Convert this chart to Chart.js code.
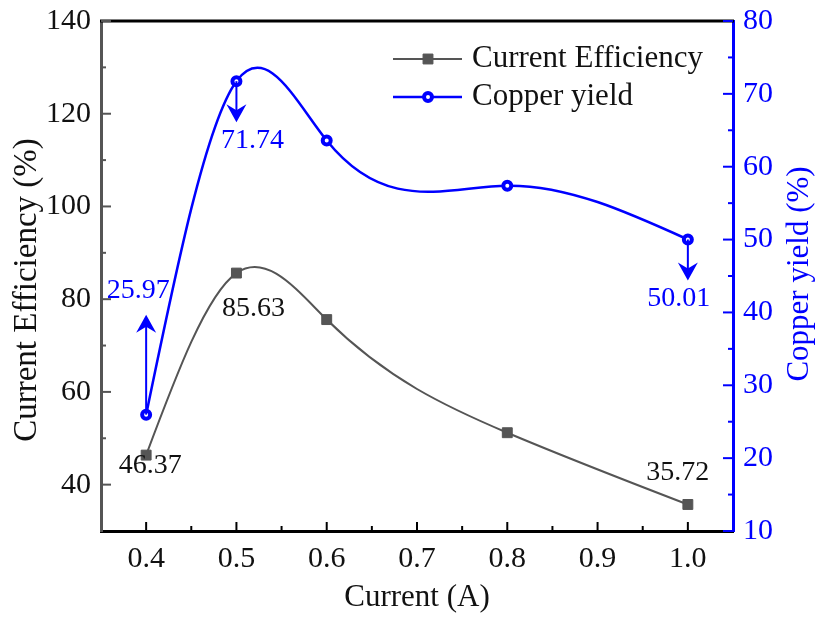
<!DOCTYPE html>
<html>
<head>
<meta charset="utf-8">
<script src="https://cdn.jsdelivr.net/npm/chart.js@4.4.1/dist/chart.umd.min.js"></script>
<style>
  html, body { margin: 0; padding: 0; background: #fff; }
</style>
</head>
<body>
<canvas id="myChart" width="819" height="621"></canvas>
<script>
// data
const currents = [0.4, 0.5, 0.6, 0.8, 1.0];
const efficiency = [46.37, 85.63, 75.6, 51.2, 35.72];
const copperYield = [25.97, 71.74, 63.6, 57.4, 50.01];

const xTicks = [0.4, 0.5, 0.6, 0.7, 0.8, 0.9, 1.0];
const effTicks = [40, 60, 80, 100, 120, 140];
const yieldTicks = [10, 20, 30, 40, 50, 60, 70, 80];

// which points carry a value label
const effLabelled = [0, 1, 4];
const yieldLabelled = [0, 1, 4];

const serif = "'Liberation Serif', 'Times New Roman', serif";
const grey = '#555555';
const blue = '#0000ff';

const effPoints = currents.map((c, i) => ({ x: c, y: efficiency[i] }));
const yieldPoints = currents.map((c, i) => ({ x: c, y: copperYield[i] }));

function midpoints(arr) {
    let out = [];
    for (let i = 0; i < arr.length - 1; i++) out.push((arr[i] + arr[i + 1]) / 2);
    return out;
}

// natural cubic spline through the drawn points -> bezier control points
// (like the smoothed line of the original plot)
function splineControls(pts) {
    const n = pts.length - 1;
    let h = [], d = [];
    for (let i = 0; i < n; i++) {
        h[i] = pts[i + 1].x - pts[i].x;
        d[i] = (pts[i + 1].y - pts[i].y) / h[i];
    }
    let M = new Array(n + 1).fill(0);
    let b = [], c = [], r = [];
    for (let i = 1; i < n; i++) {
        b[i] = 2 * (h[i - 1] + h[i]);
        c[i] = h[i];
        r[i] = 6 * (d[i] - d[i - 1]);
    }
    for (let i = 2; i < n; i++) {
        let w = h[i - 1] / b[i - 1];
        b[i] -= w * c[i - 1];
        r[i] -= w * r[i - 1];
    }
    for (let i = n - 1; i >= 1; i--) {
        M[i] = (r[i] - (i < n - 1 ? c[i] * M[i + 1] : 0)) / b[i];
    }
    let m = [];
    for (let i = 0; i < n; i++) m[i] = d[i] - h[i] * (2 * M[i] + M[i + 1]) / 6;
    m[n] = d[n - 1] + h[n - 1] * (M[n - 1] + 2 * M[n]) / 6;

    pts.forEach((p, i) => {
        if (i < n) {
            p.cp2x = p.x + h[i] / 3;
            p.cp2y = p.y + m[i] * h[i] / 3;
        }
        if (i > 0) {
            p.cp1x = p.x - h[i - 1] / 3;
            p.cp1y = p.y - m[i] * h[i - 1] / 3;
        }
    });
}

const smoothing = {
    id: 'smoothing',
    beforeDatasetDraw(chart, args) {
        const meta = args.meta;
        splineControls(meta.data);
        meta.dataset._pointsUpdated = true;
        meta.dataset._path = undefined;
    }
};

function arrow(ctx, x, yFrom, yTip, color) {
    let dir = yTip < yFrom ? 1 : -1;
    ctx.save();
    ctx.strokeStyle = color;
    ctx.fillStyle = color;
    ctx.lineWidth = 2;
    ctx.beginPath();
    ctx.moveTo(x, yFrom);
    ctx.lineTo(x, yTip + dir * 10);
    ctx.stroke();
    ctx.beginPath();
    ctx.moveTo(x, yTip);
    ctx.lineTo(x - 10, yTip + dir * 18);
    ctx.lineTo(x, yTip + dir * 12);
    ctx.lineTo(x + 10, yTip + dir * 18);
    ctx.closePath();
    ctx.fill();
    ctx.restore();
}

const extras = {
    id: 'extras',
    afterDraw(chart) {
        const ctx = chart.ctx;
        const area = chart.chartArea;
        const x = chart.scales.x;
        const yL = chart.scales.y;
        const yR = chart.scales.y1;

        ctx.save();

        // top frame line
        ctx.strokeStyle = '#000';
        ctx.lineWidth = 3;
        ctx.beginPath();
        ctx.moveTo(area.left - 1, area.top);
        ctx.lineTo(area.right + 1, area.top);
        ctx.stroke();

        // inward tick marks
        ctx.lineWidth = 2;
        ctx.strokeStyle = '#000';
        xTicks.forEach(v => {
            let px = x.getPixelForValue(v);
            ctx.beginPath(); ctx.moveTo(px, area.bottom); ctx.lineTo(px, area.bottom - 9); ctx.stroke();
        });
        midpoints(xTicks).forEach(v => {
            let px = x.getPixelForValue(v);
            ctx.beginPath(); ctx.moveTo(px, area.bottom); ctx.lineTo(px, area.bottom - 5); ctx.stroke();
        });
        ctx.strokeStyle = grey;
        effTicks.forEach(v => {
            let py = yL.getPixelForValue(v);
            ctx.beginPath(); ctx.moveTo(area.left, py); ctx.lineTo(area.left + 10, py); ctx.stroke();
        });
        midpoints(effTicks).forEach(v => {
            let py = yL.getPixelForValue(v);
            ctx.beginPath(); ctx.moveTo(area.left, py); ctx.lineTo(area.left + 5, py); ctx.stroke();
        });
        ctx.strokeStyle = blue;
        yieldTicks.forEach(v => {
            let py = yR.getPixelForValue(v);
            ctx.beginPath(); ctx.moveTo(area.right, py); ctx.lineTo(area.right - 10, py); ctx.stroke();
        });
        midpoints(yieldTicks).forEach(v => {
            let py = yR.getPixelForValue(v);
            ctx.beginPath(); ctx.moveTo(area.right, py); ctx.lineTo(area.right - 5, py); ctx.stroke();
        });

        // arrows + value labels, copper yield
        ctx.font = '28px ' + serif;
        ctx.textAlign = 'center';
        ctx.textBaseline = 'middle';
        yieldLabelled.forEach(i => {
            let px = x.getPixelForValue(currents[i]);
            let py = yR.getPixelForValue(copperYield[i]);
            let txt = copperYield[i].toFixed(2);
            ctx.fillStyle = blue;
            if (i === 0) {
                arrow(ctx, px, py, py - 100, blue);
                ctx.fillText(txt, px - 8, py - 124);
            } else {
                arrow(ctx, px, py, py + 41, blue);
                ctx.fillText(txt, px + (i === 1 ? 16 : -9), py + 59);
            }
        });

        // value labels, current efficiency
        ctx.fillStyle = '#111';
        const effOffsets = { 0: [4, 11], 1: [17, 36], 4: [-10, -32] };
        effLabelled.forEach(i => {
            let px = x.getPixelForValue(currents[i]);
            let py = yL.getPixelForValue(efficiency[i]);
            let off = effOffsets[i];
            ctx.fillText(efficiency[i].toFixed(2), px + off[0], py + off[1]);
        });

        // legend
        const rows = [
            { ds: chart.data.datasets[0], y: 59 },
            { ds: chart.data.datasets[1], y: 97 }
        ];
        rows.forEach(r => {
            ctx.strokeStyle = r.ds.borderColor;
            ctx.lineWidth = r.ds.borderWidth;
            ctx.beginPath(); ctx.moveTo(393, r.y); ctx.lineTo(462, r.y); ctx.stroke();
            ctx.fillStyle = r.ds.pointBackgroundColor;
            ctx.strokeStyle = r.ds.pointBorderColor;
            ctx.lineWidth = r.ds.pointBorderWidth;
            ctx.beginPath();
            if (r.ds.pointStyle === 'rect') {
                let s = r.ds.pointRadius * Math.SQRT1_2;
                ctx.rect(428 - s, r.y - s, 2 * s, 2 * s);
            } else {
                ctx.arc(428, r.y, r.ds.pointRadius, 0, Math.PI * 2);
            }
            ctx.fill(); ctx.stroke();
            ctx.fillStyle = '#111';
            ctx.font = '31px ' + serif;
            ctx.textAlign = 'left';
            ctx.fillText(r.ds.label, 472, r.y);
        });

        // axis titles, both reading bottom to top
        ctx.font = '31px ' + serif;
        ctx.textAlign = 'center';
        ctx.textBaseline = 'middle';
        ctx.save();
        ctx.translate(27, 290);
        ctx.rotate(-Math.PI / 2);
        ctx.fillStyle = '#111';
        ctx.font = '33px ' + serif;
        ctx.fillText('Current Efficiency (%)', 0, 0);
        ctx.restore();

        ctx.save();
        ctx.translate(800, 274);
        ctx.rotate(-Math.PI / 2);
        ctx.fillStyle = blue;
        ctx.fillText('Copper yield (%)', 0, 0);
        ctx.restore();

        ctx.restore();
    }
};

const ctx = document.getElementById('myChart');

const myChart = new Chart(ctx, {
    type: 'line',
    data: {
        datasets: [{
            label: 'Current Efficiency',
            data: effPoints,
            yAxisID: 'y',
            borderColor: grey,
            borderWidth: 2,
            pointStyle: 'rect',
            pointRadius: 7,
            pointBackgroundColor: grey,
            pointBorderColor: grey,
            pointBorderWidth: 1,
            tension: 0.4,
        }, {
            label: 'Copper yield',
            data: yieldPoints,
            yAxisID: 'y1',
            borderColor: blue,
            borderWidth: 2.5,
            pointStyle: 'circle',
            pointRadius: 4,
            pointBackgroundColor: '#ffffff',
            pointBorderColor: blue,
            pointBorderWidth: 4,
            tension: 0.4,
        }],
    },
    options: {
        responsive: false,
        animation: false,
        events: [],
        layout: { padding: { top: 21, left: 0, right: 0, bottom: 0 } },
        plugins: {
            legend: { display: false },
            tooltip: { enabled: false },
        },
        scales: {
            x: {
                type: 'linear',
                min: 0.35,
                max: 1.05,
                afterBuildTicks: s => { s.ticks = xTicks.map(v => ({ value: v })); },
                afterFit: s => { s.height = 90; s.paddingLeft = 0; s.paddingRight = 0; },
                grid: { display: false, drawTicks: false },
                border: { display: true, color: '#000', width: 3 },
                ticks: {
                    padding: 10,
                    color: '#111',
                    font: { family: serif, size: 30 },
                    callback: v => v.toFixed(1),
                },
                title: {
                    display: true,
                    text: 'Current (A)',
                    color: '#111',
                    font: { family: serif, size: 31 },
                    padding: { top: 0, bottom: 5 },
                },
            },
            y: {
                position: 'left',
                min: 30,
                max: 140,
                afterBuildTicks: s => { s.ticks = effTicks.map(v => ({ value: v })); },
                afterFit: s => { s.width = 101; s.paddingTop = 0; s.paddingBottom = 0; },
                grid: { display: false, drawTicks: false },
                border: { display: true, color: grey, width: 3 },
                ticks: {
                    padding: 10,
                    color: '#111',
                    font: { family: serif, size: 30 },
                },
            },
            y1: {
                position: 'right',
                min: 10,
                max: 80,
                afterBuildTicks: s => { s.ticks = yieldTicks.map(v => ({ value: v })); },
                afterFit: s => { s.width = 86; s.paddingTop = 0; s.paddingBottom = 0; },
                grid: { display: false, drawTicks: false },
                border: { display: true, color: blue, width: 3 },
                ticks: {
                    padding: 10,
                    color: blue,
                    font: { family: serif, size: 30 },
                },
            },
        },
    },
    plugins: [smoothing, extras],
});
</script>
</body>
</html>
